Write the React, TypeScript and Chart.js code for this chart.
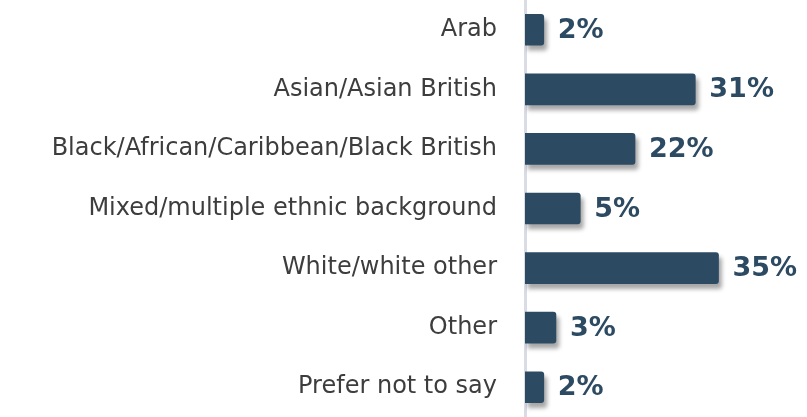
import React, { useEffect, useRef } from "react";
import { Chart, registerables } from "chart.js";

Chart.register(...registerables);

const categories = [
  "Arab",
  "Asian/Asian British",
  "Black/African/Caribbean/Black British",
  "Mixed/multiple ethnic background",
  "White/white other",
  "Other",
  "Prefer not to say",
];
// bar lengths
const values = [3.4, 30.8, 19.9, 10.0, 35, 5.6, 3.4];
const valueLabels = ["2%", "31%", "22%", "5%", "35%", "3%", "2%"];

const BAR_COLOR = "#2d4a63";

export default function App() {
  const ref = useRef<HTMLCanvasElement | null>(null);

  useEffect(() => {
    document.body.style.margin = "0";
    const canvas = ref.current;
    if (!canvas) return;

    const shadowPlugin = {
      id: "barShadow",
      beforeDatasetsDraw(chart: any) {
        const ctx = chart.ctx;
        ctx.save();
        ctx.shadowColor = "rgba(0,0,0,0.35)";
        ctx.shadowOffsetX = 3;
        ctx.shadowOffsetY = 5;
        ctx.shadowBlur = 4;
      },
      afterDatasetsDraw(chart: any) {
        chart.ctx.restore();
      },
    };

    const labelPlugin = {
      id: "valueLabels",
      afterDraw(chart: any) {
        const ctx = chart.ctx;
        const meta = chart.getDatasetMeta(0);
        ctx.save();
        ctx.font = "bold 27px 'DejaVu Sans'";
        ctx.fillStyle = BAR_COLOR;
        ctx.textAlign = "left";
        ctx.textBaseline = "middle";
        meta.data.forEach((bar: any, i: number) => {
          ctx.fillText(valueLabels[i], bar.x + 14, bar.y + 1);
        });
        ctx.restore();
      },
    };

    const chart = new Chart(canvas, {
      type: "bar",
      data: {
        labels: categories,
        datasets: [
          {
            data: values,
            backgroundColor: BAR_COLOR,
            borderRadius: 3,
            barThickness: 31,
          },
        ],
      },
      options: {
        indexAxis: "y",
        responsive: false,
        animation: false,
        layout: { padding: 0 },
        plugins: {
          legend: { display: false },
          tooltip: { enabled: false },
        },
        scales: {
          x: {
            display: false,
            min: 0,
            max: 51,
          },
          y: {
            grid: { display: false, drawTicks: false },
            border: { display: true, color: "#d9dbe5", width: 3 },
            ticks: {
              padding: 28,
              color: "#3d3d3d",
              font: { family: "'DejaVu Sans'", size: 24 },
            },
            afterFit(scale: any) {
              scale.width = 525;
              scale.paddingTop = 0;
              scale.paddingBottom = 0;
            },
          },
        },
      },
      plugins: [shadowPlugin, labelPlugin],
    });

    return () => chart.destroy();
  }, []);

  return (
    <div style={{ width: 807, height: 417 }}>
      <canvas ref={ref} width={807} height={417} style={{ display: "block" }} />
    </div>
  );
}
